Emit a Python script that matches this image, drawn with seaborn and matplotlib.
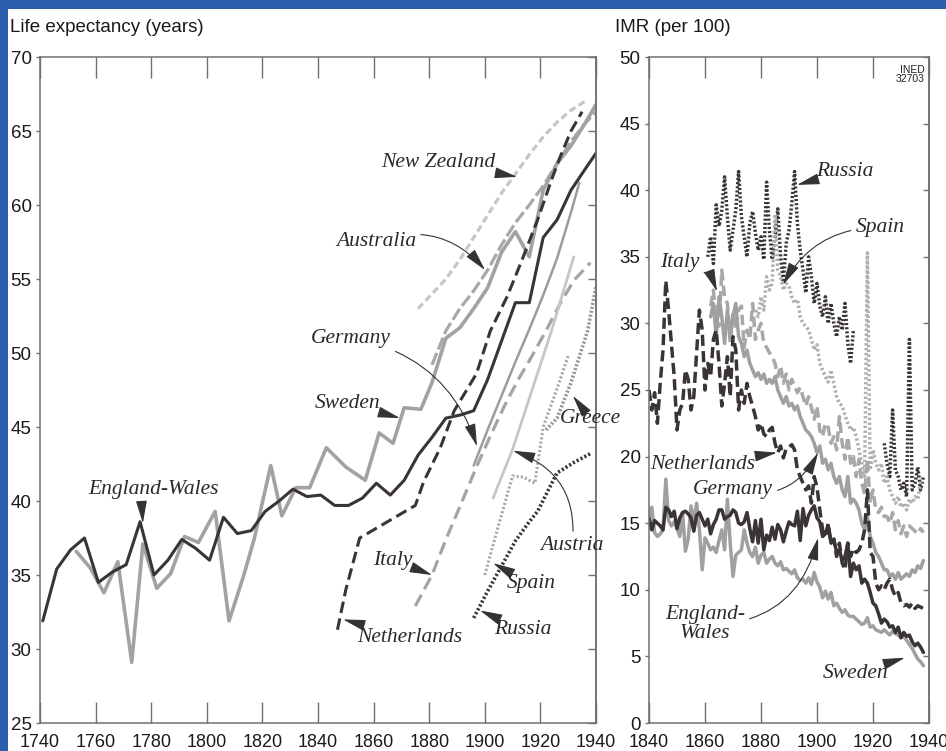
import numpy as np
import pandas as pd
import matplotlib
matplotlib.use('Agg')
import matplotlib.pyplot as plt
from matplotlib.patches import Rectangle
import seaborn as sns

# ---------------- life expectancy (left panel) ----------------
ew_le_years = [1741, 1746, 1751, 1756, 1761, 1766, 1771, 1776, 1781, 1786, 1791, 1796, 1801, 1806,
               1811, 1816, 1821, 1826, 1831, 1836, 1841, 1846, 1851, 1856, 1861, 1866, 1871, 1876,
               1881, 1886, 1891, 1896, 1901, 1906, 1911, 1916, 1921, 1926, 1931, 1936, 1940]
ew_le = [31.9, 35.4, 36.7, 37.5, 34.5, 35.2, 35.7, 38.6, 35.0, 36.0, 37.4, 36.8, 36.0, 38.9,
         37.8, 38.0, 39.3, 40.0, 40.8, 40.3, 40.4, 39.7, 39.7, 40.2, 41.2, 40.4, 41.4, 43.1,
         44.3, 45.6, 45.8, 46.1, 48.2, 50.8, 53.4, 53.4, 57.8, 59.0, 61.0, 62.4, 63.5]

se_le_years = [1753, 1758, 1763, 1768, 1773, 1777, 1782, 1787, 1792, 1797, 1803, 1808, 1813, 1817,
               1823, 1827, 1832, 1837, 1843, 1850, 1857, 1862, 1867, 1871, 1877, 1881, 1886, 1891,
               1896, 1901, 1906, 1911, 1916, 1921, 1926, 1931, 1936, 1940]
se_le = [36.6, 35.5, 33.8, 35.9, 29.1, 37.1, 34.1, 35.1, 37.6, 37.2, 39.3, 31.9, 34.8, 37.4,
         42.4, 39.0, 40.9, 40.9, 43.6, 42.3, 41.4, 44.6, 43.9, 46.3, 46.2, 48.0, 51.0, 51.7,
         53.0, 54.4, 56.8, 58.2, 56.5, 61.0, 62.8, 64.0, 65.5, 66.8]

nl_le_years = [1847, 1850, 1855, 1865, 1875, 1878, 1884, 1889, 1897, 1902, 1908, 1913, 1919,
               1924, 1927, 1931, 1935]
nl_le = [31.3, 34.0, 37.5, 38.6, 39.7, 41.3, 43.6, 46.1, 48.6, 51.5, 53.8, 56.1, 59.0,
         61.7, 63.2, 65.0, 66.3]

nz_le_years = [1876, 1881, 1886, 1891, 1896, 1901, 1906, 1911, 1916, 1921, 1926, 1931, 1936]
nz_le = [53.0, 54.0, 55.0, 56.3, 57.8, 59.3, 60.8, 62.1, 63.4, 64.6, 65.6, 66.4, 67.0]

au_le_years = [1881, 1886, 1891, 1896, 1901, 1906, 1911, 1916, 1921, 1926, 1931, 1936, 1940]
au_le = [49.2, 51.5, 53.0, 54.2, 55.6, 57.3, 58.8, 60.0, 61.3, 62.8, 64.3, 65.5, 66.3]

de_le_years = [1896, 1901, 1906, 1911, 1916, 1921, 1926, 1931, 1934]
de_le = [42.4, 44.8, 47.1, 49.4, 51.6, 53.9, 56.4, 59.5, 61.5]

it_le_years = [1875, 1881, 1886, 1891, 1897, 1902, 1907, 1912, 1917, 1922, 1927, 1932, 1938]
it_le = [32.9, 35.0, 37.4, 39.6, 42.3, 44.4, 46.4, 48.2, 49.8, 51.5, 53.3, 54.9, 56.1]

at_le_years = [1903, 1910, 1917, 1924, 1932]
at_le = [40.2, 43.5, 47.5, 51.5, 56.5]

es_le_years = [1900, 1905, 1910, 1914, 1918, 1921, 1926, 1930]
es_le = [35.0, 38.4, 41.7, 41.6, 41.2, 45.0, 47.6, 49.8]

gr_le_years = [1922, 1926, 1931, 1937, 1940]
gr_le = [44.8, 45.6, 48.0, 51.5, 54.5]

ru_le_years = [1896, 1901, 1906, 1911, 1916, 1919, 1923, 1926, 1932, 1938]
ru_le = [32.1, 33.9, 35.6, 37.3, 38.6, 39.3, 40.8, 41.9, 42.6, 43.2]

# ---------------- infant mortality per 100 (right panel) ----------------
ew_imr_start = 1840
ew_imr = [15.4, 14.5, 15.2, 15.0, 14.8, 14.5, 16.2, 16.0, 15.5, 15.9,
          14.6, 15.4, 15.8, 15.9, 15.7, 15.4, 14.4, 15.6, 15.8, 15.3,
          14.8, 15.3, 14.2, 14.9, 15.3, 16.0, 16.0, 15.3, 15.5, 15.6,
          16.0, 15.8, 15.0, 14.9, 15.1, 15.8, 14.6, 13.6, 15.2, 13.5,
          15.3, 13.0, 14.1, 13.7, 14.7, 13.8, 14.9, 14.5, 13.6, 14.4,
          15.1, 14.9, 14.8, 15.9, 13.7, 16.1, 14.8, 15.6, 16.0, 16.3,
          15.4, 15.1, 14.0, 14.2, 14.8, 13.5, 13.8, 12.8, 13.0, 12.2,
          12.5, 13.5, 11.0, 12.0, 11.5, 11.8, 10.5, 10.8, 10.5, 9.8,
          9.0, 8.8, 8.2, 7.5, 7.8, 7.6, 7.2, 7.3, 6.8, 7.2,
          6.4, 6.8, 6.5, 6.6, 6.1, 5.8, 6.0, 5.7, 5.3]

se_imr_start = 1840
se_imr = [15.5, 16.2, 14.3, 14.0, 14.2, 14.5, 18.3, 15.2, 14.8, 15.1,
          14.6, 14.0, 15.8, 12.9, 13.8, 16.3, 15.0, 16.5, 14.5, 11.5,
          13.9, 13.5, 13.0, 13.2, 12.8, 13.7, 14.5, 13.0, 16.8, 13.5,
          11.0, 12.6, 12.8, 13.0, 14.5, 13.5, 12.8, 12.5, 13.2, 12.0,
          12.6, 12.8, 12.0, 12.3, 12.5, 12.0, 11.8, 12.1, 11.5, 11.6,
          11.4, 11.2, 11.5, 10.9, 10.7, 10.8, 10.5, 10.9, 10.4, 11.3,
          10.6, 10.2, 9.4, 9.9, 9.3, 9.8, 8.8, 9.0, 8.6, 8.3,
          8.5, 8.1, 8.0, 8.0, 7.8, 7.6, 7.4, 7.5, 7.9, 7.2,
          7.3, 7.0, 6.9, 6.8, 7.0, 6.8, 6.6, 6.9, 6.7, 6.6,
          6.4, 6.5, 6.2, 5.9, 5.6, 5.2, 4.8, 4.6, 4.3]

nl_imr_start = 1840
nl_imr = [25.0, 23.5, 24.8, 22.5, 25.5, 28.0, 33.2, 31.0, 28.5, 26.0,
          22.0, 23.5, 24.0, 26.5, 25.8, 23.5, 24.5, 27.8, 31.0, 29.5,
          25.0, 27.0, 26.0, 28.8, 29.5, 27.0, 23.8, 25.5, 27.5, 24.5,
          29.0, 28.0, 23.5, 25.0, 24.0, 25.5, 24.5, 23.8, 23.0, 22.0,
          22.5, 21.7, 21.5, 22.0, 22.2, 21.0, 20.3, 20.8, 19.9, 20.6,
          20.7, 20.9, 20.5, 19.0, 18.5, 18.0, 17.5, 17.8, 16.5, 18.5,
          17.7, 16.0, 14.5, 14.0, 15.0, 13.5, 13.8, 12.5, 13.5, 12.0,
          11.5, 13.5, 12.5, 13.1, 12.8, 13.0, 13.5, 14.5, 17.5, 12.8,
          12.5, 10.5, 10.0, 10.3, 10.0, 10.5, 10.8, 10.0, 9.5, 9.8,
          9.0, 8.8, 8.9, 8.7, 9.0, 8.6, 8.8, 8.7, 8.6]

de_imr_start = 1862
de_imr = [30.5, 31.5, 29.0, 32.0, 30.5, 28.5, 31.0, 29.0,
          30.5, 31.5, 29.0, 28.5, 27.5, 28.0, 27.0, 26.5, 26.0, 26.3,
          25.8, 26.2, 25.5, 25.8, 25.5, 26.0, 25.0, 24.5, 24.0, 24.5,
          23.8, 24.0, 23.5, 23.8, 23.0, 22.5, 22.0, 21.8, 21.5, 21.0,
          20.3, 20.8, 19.5, 19.8, 19.0, 19.5, 18.5, 18.0, 18.5, 17.5,
          17.0, 18.5, 16.5, 16.8, 16.5, 16.0, 15.0, 14.5, 15.5, 14.0,
          13.5, 12.8, 12.5, 12.0, 11.5, 11.5, 11.0, 11.2, 10.8, 11.3,
          10.8, 11.0, 11.2, 11.0, 11.5, 11.3, 11.8, 11.6, 12.2]

it_imr_start = 1862
it_imr = [31.3, 32.5, 30.0, 29.8, 34.0, 32.0, 31.5, 28.5,
          30.8, 29.5, 31.0, 31.3, 28.2, 29.5, 28.8, 31.5, 28.8, 29.5,
          30.0, 28.5, 28.2, 27.8, 27.5, 27.0, 26.0, 26.8, 25.5, 26.2,
          25.0, 25.8, 25.3, 24.8, 25.2, 24.5, 23.8, 24.5, 23.7, 22.8,
          23.8, 22.0, 21.5, 22.5, 22.2, 21.0, 21.5, 20.5, 23.0, 21.0,
          19.8, 21.5, 19.5, 20.0, 18.5, 19.8, 18.0, 17.2, 19.8, 16.5,
          17.5, 16.0, 15.8, 16.2, 15.5, 15.5, 15.0, 15.8, 14.5, 15.2,
          14.2, 14.8, 14.0, 14.8, 14.6, 14.4, 14.2, 14.6, 14.3]

es_imr_start = 1878
es_imr = [31.0, 30.5,
          32.0, 31.0, 33.5, 32.5, 33.0, 38.2, 34.0, 33.5, 32.5, 33.0,
          32.8, 32.0, 31.5, 31.8, 30.5, 30.0, 29.8, 29.5, 28.8, 28.0,
          28.4, 27.0, 26.5, 26.0, 25.6, 26.5, 25.5, 24.5, 24.0, 23.8,
          23.1, 22.5, 22.0, 22.2, 21.5, 20.5, 19.5, 18.5, 35.3, 19.0,
          20.5, 19.5, 19.0, 19.5, 18.0, 18.5, 17.5, 17.0, 16.5, 17.0,
          16.2, 16.5, 16.0, 16.8, 16.5, 17.0, 16.8, 18.0, 18.2]

ru_imr_start_a = 1861
ru_imr_a = [35.0, 36.5, 34.5, 38.9, 37.3, 38.5, 41.0, 38.0, 35.5,
            37.0, 38.5, 41.4, 38.0, 36.5, 35.0, 37.5, 38.4, 36.8, 35.5,
            36.5, 34.8, 40.6, 37.0, 34.8, 36.5, 38.6, 35.0, 33.1, 36.0,
            37.0, 39.0, 41.4, 37.5, 35.5, 34.0, 32.3, 35.0, 33.5, 31.5,
            33.0, 31.3, 30.5, 32.0, 30.0, 31.5, 30.0, 29.0, 30.5, 29.5,
            31.5, 28.5, 27.0, 29.5]
ru_imr_start_b = 1924
ru_imr_b = [21.0, 19.5, 18.5, 23.5, 19.0, 18.5, 17.5, 18.0, 17.0, 28.8,
            17.5, 18.0, 19.2, 17.5, 18.5]

DARK = '#3a3337'
MID = '#9c9c9c'
LIGHT = '#c6c6c6'
BLUE = '#2b5fad'
SPINE = '#707070'

sns.set_style('white')
plt.rcParams['font.family'] = ['Liberation Sans', 'DejaVu Sans']

fig = plt.figure(figsize=(9.46, 7.51), dpi=100, facecolor=BLUE)
fig.add_artist(Rectangle((8 / 946, 0), 1, (751 - 9) / 751, transform=fig.transFigure,
                         facecolor='white', edgecolor='none', zorder=0))

ax1 = fig.add_axes([40 / 946, 28 / 751, 556 / 946, 666 / 751])
ax2 = fig.add_axes([649 / 946, 28 / 751, 280 / 946, 666 / 751])


def draw(ax, years, vals, color, lw, ls='-'):
    sns.lineplot(x=years, y=vals, ax=ax, color=color, linewidth=lw, linestyle=ls,
                 estimator=None, sort=False)


def years_from(start, vals):
    return list(range(start, start + len(vals)))


# left panel
draw(ax1, nz_le_years, nz_le, LIGHT, 2.3, (0, (2.2, 1.2)))
draw(ax1, au_le_years, au_le, '#a8a8a8', 2.3, (0, (4, 1.2)))
draw(ax1, it_le_years, it_le, '#a4a4a4', 2.3, (0, (4, 2)))
draw(ax1, at_le_years, at_le, LIGHT, 2.0)
draw(ax1, es_le_years, es_le, '#a8a8a8', 2.2, (0, (0.7, 0.7)))
draw(ax1, gr_le_years, gr_le, '#999999', 2.6, (0, (0.6, 0.5)))
draw(ax1, de_le_years, de_le, MID, 1.8)
draw(ax1, se_le_years, se_le, '#a2a2a2', 2.6)
draw(ax1, ew_le_years, ew_le, DARK, 2.2)
draw(ax1, nl_le_years, nl_le, DARK, 2.2, (0, (3.8, 1.8)))
draw(ax1, ru_le_years, ru_le, DARK, 2.6, (0, (0.6, 0.6)))

# right panel
draw(ax2, years_from(ru_imr_start_a, ru_imr_a), ru_imr_a, DARK, 2.5, (0, (0.6, 0.6)))
draw(ax2, years_from(ru_imr_start_b, ru_imr_b), ru_imr_b, DARK, 2.5, (0, (0.6, 0.6)))
draw(ax2, years_from(es_imr_start, es_imr), es_imr, '#b0b0b0', 2.5, (0, (0.7, 0.7)))
draw(ax2, years_from(it_imr_start, it_imr), it_imr, '#a8a8a8', 2.5, (0, (3, 1.5)))
draw(ax2, years_from(de_imr_start, de_imr), de_imr, '#a0a0a0', 2.5)
draw(ax2, years_from(se_imr_start, se_imr), se_imr, '#a0a0a0', 2.5)
draw(ax2, years_from(nl_imr_start, nl_imr), nl_imr, DARK, 2.5, (0, (3.2, 1.5)))
draw(ax2, years_from(ew_imr_start, ew_imr), ew_imr, DARK, 2.5)

for ax, (x0, x1), (y0, y1), rlen in [(ax1, (1740, 1940), (25, 70), 6),
                                     (ax2, (1840, 1940), (0, 50), 4)]:
    ax.set_xlim(x0, x1)
    ax.set_ylim(y0, y1)
    ax.set_xlabel('')
    ax.set_ylabel('')
    ax.set_xticks(range(x0, x1 + 1, 20))
    ax.set_yticks(range(y0, y1 + 1, 5))
    ax.tick_params(axis='x', which='major', direction='in', top=True, bottom=True,
                   length=15, width=1, color=SPINE, labelsize=13, pad=8, labelcolor='#1a1a1a')
    ax.tick_params(axis='y', which='major', direction='out', left=True, right=False,
                   length=3, width=1, color=SPINE, labelsize=13.5, pad=3, labelcolor='#1a1a1a')
    for s in ax.spines.values():
        s.set_color(SPINE)
        s.set_linewidth(1.1)
        s.set_visible(True)
    sec = ax.secondary_yaxis('right')
    sec.set_yticks(range(y0, y1 + 1, 5))
    sec.tick_params(direction='in', length=rlen, width=1, color=SPINE, labelright=False)
    sec.spines['right'].set_color(SPINE)
    sec.spines['right'].set_linewidth(1.1)

fig.text(10 / 946, 1 - 27 / 751, 'Life expectancy (years)', fontsize=13.5, va='center',
         ha='left', color='#1a1a1a')
fig.text(615 / 946, 1 - 27 / 751, 'IMR (per 100)', fontsize=13.5, va='center',
         ha='left', color='#1a1a1a')
ax2.text(1938.5, 48.7, 'INED\n32703', fontsize=7.5, ha='right', va='center',
         linespacing=0.9, color='#222222')

lab = dict(fontsize=15.5, family=['Liberation Serif', 'DejaVu Serif'], style='italic',
           color='#2a2a2a', ha='center', va='center')


def arrow(rad=0.0):
    return dict(arrowstyle='-|>,head_length=0.9,head_width=0.22', color='#333333', lw=0.8,
                shrinkA=1, shrinkB=0, connectionstyle='arc3,rad=%s' % rad)


# left panel labels
ax1.annotate('New Zealand', xy=(1911.6, 61.9), xytext=(1883.2, 62.9), arrowprops=arrow(), **lab)
ax1.annotate('Australia', xy=(1900.1, 55.6), xytext=(1860.9, 57.5), arrowprops=arrow(-0.35), **lab)
ax1.annotate('Germany', xy=(1897.2, 43.7), xytext=(1851.9, 51.0), arrowprops=arrow(-0.3), **lab)
ax1.annotate('Sweden', xy=(1869.5, 45.6), xytext=(1850.8, 46.6), arrowprops=arrow(), **lab)
ax1.annotate('England-Wales', xy=(1777.0, 38.5), xytext=(1781.0, 40.8), arrowprops=arrow(0.2), **lab)
ax1.annotate('Italy', xy=(1881.0, 35.0), xytext=(1867.0, 36.0), arrowprops=arrow(), **lab)
ax1.annotate('Netherlands', xy=(1849.0, 32.0), xytext=(1873.1, 30.75), arrowprops=arrow(), **lab)
ax1.annotate('Russia', xy=(1898.3, 32.6), xytext=(1913.7, 31.3), arrowprops=arrow(), **lab)
ax1.annotate('Spain', xy=(1903.0, 35.8), xytext=(1916.6, 34.4), arrowprops=arrow(), **lab)
ax1.annotate('Austria', xy=(1910.1, 43.4), xytext=(1931.4, 37.0), arrowprops=arrow(0.4), **lab)
ax1.annotate('Greece', xy=(1931.7, 47.1), xytext=(1937.8, 45.6), arrowprops=arrow(), **lab)

# right panel labels
ax2.annotate('Russia', xy=(1892.9, 40.4), xytext=(1910.0, 41.4), arrowprops=arrow(), **lab)
ax2.annotate('Spain', xy=(1887.9, 32.9), xytext=(1922.5, 37.2), arrowprops=arrow(0.3), **lab)
ax2.annotate('Italy', xy=(1864.3, 32.4), xytext=(1851.1, 34.6), arrowprops=arrow(-0.3), **lab)
ax2.annotate('Netherlands', xy=(1885.7, 20.3), xytext=(1859.3, 19.4), arrowprops=arrow(), **lab)
ax2.annotate('Germany', xy=(1900.4, 20.3), xytext=(1870.0, 17.5), arrowprops=arrow(0.4), **lab)
ax2.annotate('England-\nWales', xy=(1900.4, 13.9), xytext=(1860.0, 7.4), arrowprops=arrow(0.4),
             linespacing=1.0, **lab)
ax2.annotate('Sweden', xy=(1931.4, 4.9), xytext=(1913.6, 3.75), arrowprops=arrow(), **lab)

fig.savefig('out.png', dpi=100, facecolor=fig.get_facecolor())
